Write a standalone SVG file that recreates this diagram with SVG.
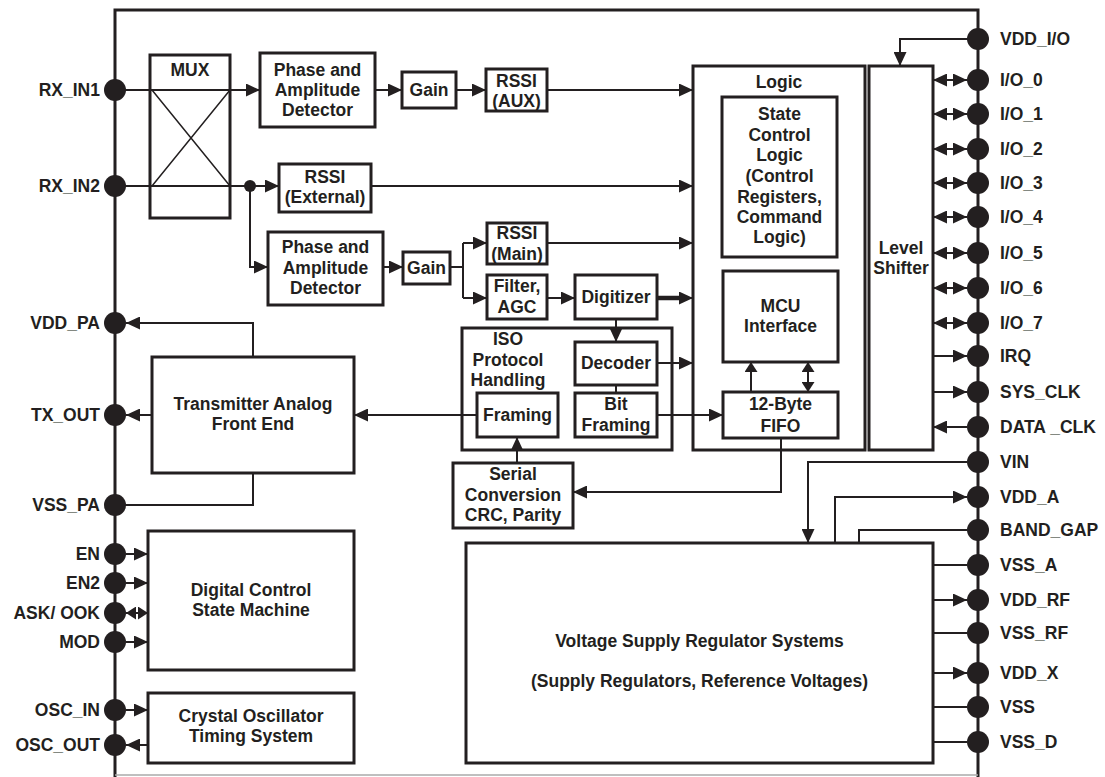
<svg xmlns="http://www.w3.org/2000/svg" width="1105" height="777" viewBox="0 0 1105 777">
<style>
.box{fill:none;stroke:#231f20;stroke-width:3}
.ln{fill:none;stroke:#231f20;stroke-width:2}
.thin{fill:none;stroke:#231f20;stroke-width:1.5}
.pin{fill:#231f20}
text{font-family:"Liberation Sans",Arial,sans-serif;font-weight:bold;font-size:17.5px;fill:#231f20}
.c{text-anchor:middle}
.r{text-anchor:end}
</style>
<defs>
<marker id="a" markerUnits="userSpaceOnUse" markerWidth="14" markerHeight="13" refX="14" refY="6.5" orient="auto-start-reverse"><path d="M0,0 L14,6.5 L0,13 z" fill="#231f20"/></marker>
<marker id="s" markerUnits="userSpaceOnUse" markerWidth="10" markerHeight="13" refX="10" refY="6.5" orient="auto-start-reverse"><path d="M0,0 L10,6.5 L0,13 z" fill="#231f20"/></marker>
</defs>
<g id="frame">
<path class="ln" style="stroke-width:3" d="M115,777 V10 H978 V777"/>
<path d="M115,775 H978" fill="none" stroke="#aaa" stroke-width="1.5"/>
</g>
<g id="connectors">
<path class="ln" d="M115,90 H260" marker-end="url(#a)"/>
<path class="ln" d="M375,90 H402" marker-end="url(#a)"/>
<path class="ln" d="M456,90 H486" marker-end="url(#a)"/>
<path class="ln" d="M547,90 H693" marker-end="url(#a)"/>
<path class="ln" d="M115,186 H279" marker-end="url(#a)"/>
<circle cx="250" cy="186" r="6" class="pin"/>
<path class="ln" d="M250,186 V267 H268" marker-end="url(#a)"/>
<path class="ln" d="M371,186 H693" marker-end="url(#a)"/>
<path class="ln" d="M383,267 H403" marker-end="url(#a)"/>
<path class="ln" d="M450,267 H463"/>
<path class="ln" d="M463,243 V298"/>
<path class="ln" d="M463,243 H487" marker-end="url(#a)"/>
<path class="ln" d="M463,298 H487" marker-end="url(#a)"/>
<path class="ln" d="M547,243 H693" marker-end="url(#a)"/>
<path class="ln" d="M547,298 H575" marker-end="url(#a)"/>
<path class="ln" style="stroke-width:4.5" d="M657,298 H685"/>
<path class="ln" d="M680,298 H693" marker-end="url(#a)"/>
<path class="ln" d="M616,319 V342" marker-end="url(#a)"/>
<path class="ln" d="M657,363 H693" marker-end="url(#a)"/>
<path class="ln" d="M616,385 V393"/>
<path class="ln" d="M657,415 H723" marker-end="url(#a)"/>
<path class="ln" d="M477,415 H354" marker-end="url(#a)"/>
<path class="ln" d="M152,415 H126" marker-end="url(#a)"/>
<path class="ln" d="M253,357 V323 H126" marker-end="url(#a)"/>
<path class="ln" d="M253,473 V505 H115"/>
<path class="ln" d="M517,463 V437" marker-end="url(#a)"/>
<path class="ln" d="M781,438 V492 H573" marker-end="url(#a)"/>
<path class="ln" d="M751,392 V362" marker-end="url(#s)"/>
<path class="ln" d="M808,392 V362" marker-start="url(#s)" marker-end="url(#s)"/>
<path class="ln" d="M126,554 H148" marker-end="url(#a)"/>
<path class="ln" d="M126,583 H148" marker-end="url(#a)"/>
<path class="ln" d="M126,613 H148" marker-start="url(#s)" marker-end="url(#s)"/>
<path class="ln" d="M126,642 H148" marker-end="url(#a)"/>
<path class="ln" d="M126,710 H148" marker-end="url(#a)"/>
<path class="ln" d="M148,745 H126" marker-end="url(#a)"/>
<path class="ln" d="M978,39 H900 V66" marker-end="url(#a)"/>
<path class="ln" d="M933,80 H967" marker-start="url(#a)" marker-end="url(#a)"/>
<path class="ln" d="M933,114 H967" marker-start="url(#a)" marker-end="url(#a)"/>
<path class="ln" d="M933,149 H967" marker-start="url(#a)" marker-end="url(#a)"/>
<path class="ln" d="M933,183 H967" marker-start="url(#a)" marker-end="url(#a)"/>
<path class="ln" d="M933,217 H967" marker-start="url(#a)" marker-end="url(#a)"/>
<path class="ln" d="M933,253 H967" marker-start="url(#a)" marker-end="url(#a)"/>
<path class="ln" d="M933,288 H967" marker-start="url(#a)" marker-end="url(#a)"/>
<path class="ln" d="M933,323 H967" marker-start="url(#a)" marker-end="url(#a)"/>
<path class="ln" d="M933,356 H967" marker-end="url(#a)"/>
<path class="ln" d="M933,392 H967" marker-end="url(#a)"/>
<path class="ln" d="M967,427 H933" marker-end="url(#a)"/>
<path class="ln" d="M967,462 H808 V543" marker-end="url(#a)"/>
<path class="ln" d="M835,543 V497 H967" marker-end="url(#a)"/>
<path class="ln" d="M859,543 V530 H967"/>
<path class="ln" d="M933,565 H967"/>
<path class="ln" d="M933,600 H967" marker-end="url(#a)"/>
<path class="ln" d="M933,633 H967"/>
<path class="ln" d="M933,673 H967" marker-end="url(#a)"/>
<path class="ln" d="M933,707 H967"/>
<path class="ln" d="M933,742 H967"/>
</g>
<g id="mux">
<rect class="box" x="150" y="55" width="80" height="163"/>
<path class="thin" d="M152,90 L230,186 M152,186 L230,90"/>
<text class="c" x="190" y="76">MUX</text>
</g>
<g id="phase1">
<rect class="box" x="260" y="53" width="115" height="74"/>
<text class="c" x="317.5" y="76">Phase and</text>
<text class="c" x="317.5" y="96">Amplitude</text>
<text class="c" x="317.5" y="116">Detector</text>
</g>
<g id="gain1">
<rect class="box" x="402" y="72" width="54" height="36"/>
<text class="c" x="429" y="96">Gain</text>
</g>
<g id="rssi-aux">
<rect class="box" x="486" y="69" width="61" height="42"/>
<text class="c" x="516.5" y="87">RSSI</text>
<text class="c" x="516.5" y="107">(AUX)</text>
</g>
<g id="rssi-ext">
<rect class="box" x="279" y="164" width="92" height="48"/>
<text class="c" x="325" y="183">RSSI</text>
<text class="c" x="325" y="203">(External)</text>
</g>
<g id="phase2">
<rect class="box" x="268" y="232" width="115" height="73"/>
<text class="c" x="325.5" y="253">Phase and</text>
<text class="c" x="325.5" y="274">Amplitude</text>
<text class="c" x="325.5" y="294">Detector</text>
</g>
<g id="gain2">
<rect class="box" x="403" y="252" width="47" height="32"/>
<text class="c" x="426.5" y="274">Gain</text>
</g>
<g id="rssi-main">
<rect class="box" x="487" y="223" width="60" height="41"/>
<text class="c" x="517" y="239">RSSI</text>
<text class="c" x="517" y="260">(Main)</text>
</g>
<g id="filter">
<rect class="box" x="487" y="275" width="60" height="44"/>
<text class="c" x="517" y="292">Filter,</text>
<text class="c" x="517" y="313">AGC</text>
</g>
<g id="digitizer">
<rect class="box" x="575" y="275" width="82" height="44"/>
<text class="c" x="616" y="303">Digitizer</text>
</g>
<g id="iso">
<rect class="box" x="462" y="328" width="210" height="122"/>
<text class="c" x="508" y="345">ISO</text>
<text class="c" x="508" y="366">Protocol</text>
<text class="c" x="508" y="386">Handling</text>
</g>
<g id="decoder">
<rect class="box" x="575" y="342" width="82" height="43"/>
<text class="c" x="616" y="369">Decoder</text>
</g>
<g id="bitframing">
<rect class="box" x="575" y="393" width="82" height="44"/>
<text class="c" x="616" y="410">Bit</text>
<text class="c" x="616" y="431">Framing</text>
</g>
<g id="framing">
<rect class="box" x="477" y="393" width="81" height="44"/>
<text class="c" x="517.5" y="421">Framing</text>
</g>
<g id="serial">
<rect class="box" x="453" y="463" width="120" height="65"/>
<text class="c" x="513" y="480">Serial</text>
<text class="c" x="513" y="501">Conversion</text>
<text class="c" x="513" y="521">CRC, Parity</text>
</g>
<g id="transmitter">
<rect class="box" x="152" y="357" width="202" height="116"/>
<text class="c" x="253" y="410">Transmitter Analog</text>
<text class="c" x="253" y="430">Front End</text>
</g>
<g id="digital">
<rect class="box" x="148" y="531" width="206" height="139"/>
<text class="c" x="251" y="596">Digital Control</text>
<text class="c" x="251" y="616">State Machine</text>
</g>
<g id="crystal">
<rect class="box" x="148" y="693" width="206" height="70"/>
<text class="c" x="251" y="722">Crystal Oscillator</text>
<text class="c" x="251" y="742">Timing System</text>
</g>
<g id="logic">
<rect class="box" x="693" y="66" width="172" height="384"/>
<text class="c" x="779" y="88">Logic</text>
</g>
<g id="state">
<rect class="box" x="722" y="97" width="115" height="160"/>
<text class="c" x="779.5" y="120">State</text>
<text class="c" x="779.5" y="141">Control</text>
<text class="c" x="779.5" y="161">Logic</text>
<text class="c" x="779.5" y="182">(Control</text>
<text class="c" x="779.5" y="203">Registers,</text>
<text class="c" x="779.5" y="223">Command</text>
<text class="c" x="779.5" y="243">Logic)</text>
</g>
<g id="mcu">
<rect class="box" x="723" y="271" width="115" height="91"/>
<text class="c" x="780.5" y="312">MCU</text>
<text class="c" x="780.5" y="332">Interface</text>
</g>
<g id="fifo">
<rect class="box" x="723" y="392" width="115" height="46"/>
<text class="c" x="780.5" y="410">12-Byte</text>
<text class="c" x="780.5" y="432">FIFO</text>
</g>
<g id="level">
<rect class="box" x="869" y="66" width="64" height="384"/>
<text class="c" x="901" y="254">Level</text>
<text class="c" x="901" y="274">Shifter</text>
</g>
<g id="voltage">
<rect class="box" x="466" y="543" width="467" height="220"/>
<text class="c" x="699.5" y="647">Voltage Supply Regulator Systems</text>
<text class="c" x="699.5" y="687">(Supply Regulators, Reference Voltages)</text>
</g>
<g id="left-pins">
<circle class="pin" cx="115" cy="90" r="11"/><text class="r" x="100" y="96">RX_IN1</text>
<circle class="pin" cx="115" cy="186" r="11"/><text class="r" x="100" y="192">RX_IN2</text>
<circle class="pin" cx="115" cy="323" r="11"/><text class="r" x="100" y="329">VDD_PA</text>
<circle class="pin" cx="115" cy="415" r="11"/><text class="r" x="100" y="421">TX_OUT</text>
<circle class="pin" cx="115" cy="505" r="11"/><text class="r" x="100" y="511">VSS_PA</text>
<circle class="pin" cx="115" cy="554" r="11"/><text class="r" x="100" y="560">EN</text>
<circle class="pin" cx="115" cy="583" r="11"/><text class="r" x="100" y="589">EN2</text>
<circle class="pin" cx="115" cy="613" r="11"/><text class="r" x="100" y="619">ASK/ OOK</text>
<circle class="pin" cx="115" cy="642" r="11"/><text class="r" x="100" y="648">MOD</text>
<circle class="pin" cx="115" cy="710" r="11"/><text class="r" x="100" y="716">OSC_IN</text>
<circle class="pin" cx="115" cy="745" r="11"/><text class="r" x="100" y="751">OSC_OUT</text>
</g>
<g id="right-pins">
<circle class="pin" cx="978" cy="39" r="11"/><text x="1000" y="45">VDD_I/O</text>
<circle class="pin" cx="978" cy="80" r="11"/><text x="1000" y="86">I/O_0</text>
<circle class="pin" cx="978" cy="114" r="11"/><text x="1000" y="120">I/O_1</text>
<circle class="pin" cx="978" cy="149" r="11"/><text x="1000" y="155">I/O_2</text>
<circle class="pin" cx="978" cy="183" r="11"/><text x="1000" y="189">I/O_3</text>
<circle class="pin" cx="978" cy="217" r="11"/><text x="1000" y="223">I/O_4</text>
<circle class="pin" cx="978" cy="253" r="11"/><text x="1000" y="259">I/O_5</text>
<circle class="pin" cx="978" cy="288" r="11"/><text x="1000" y="294">I/O_6</text>
<circle class="pin" cx="978" cy="323" r="11"/><text x="1000" y="329">I/O_7</text>
<circle class="pin" cx="978" cy="356" r="11"/><text x="1000" y="362">IRQ</text>
<circle class="pin" cx="978" cy="392" r="11"/><text x="1000" y="398">SYS_CLK</text>
<circle class="pin" cx="978" cy="427" r="11"/><text x="1000" y="433">DATA _CLK</text>
<circle class="pin" cx="978" cy="462" r="11"/><text x="1000" y="468">VIN</text>
<circle class="pin" cx="978" cy="497" r="11"/><text x="1000" y="503">VDD_A</text>
<circle class="pin" cx="978" cy="530" r="11"/><text x="1000" y="536">BAND_GAP</text>
<circle class="pin" cx="978" cy="565" r="11"/><text x="1000" y="571">VSS_A</text>
<circle class="pin" cx="978" cy="600" r="11"/><text x="1000" y="606">VDD_RF</text>
<circle class="pin" cx="978" cy="633" r="11"/><text x="1000" y="639">VSS_RF</text>
<circle class="pin" cx="978" cy="673" r="11"/><text x="1000" y="679">VDD_X</text>
<circle class="pin" cx="978" cy="707" r="11"/><text x="1000" y="713">VSS</text>
<circle class="pin" cx="978" cy="742" r="11"/><text x="1000" y="748">VSS_D</text>
</g>
</svg>
